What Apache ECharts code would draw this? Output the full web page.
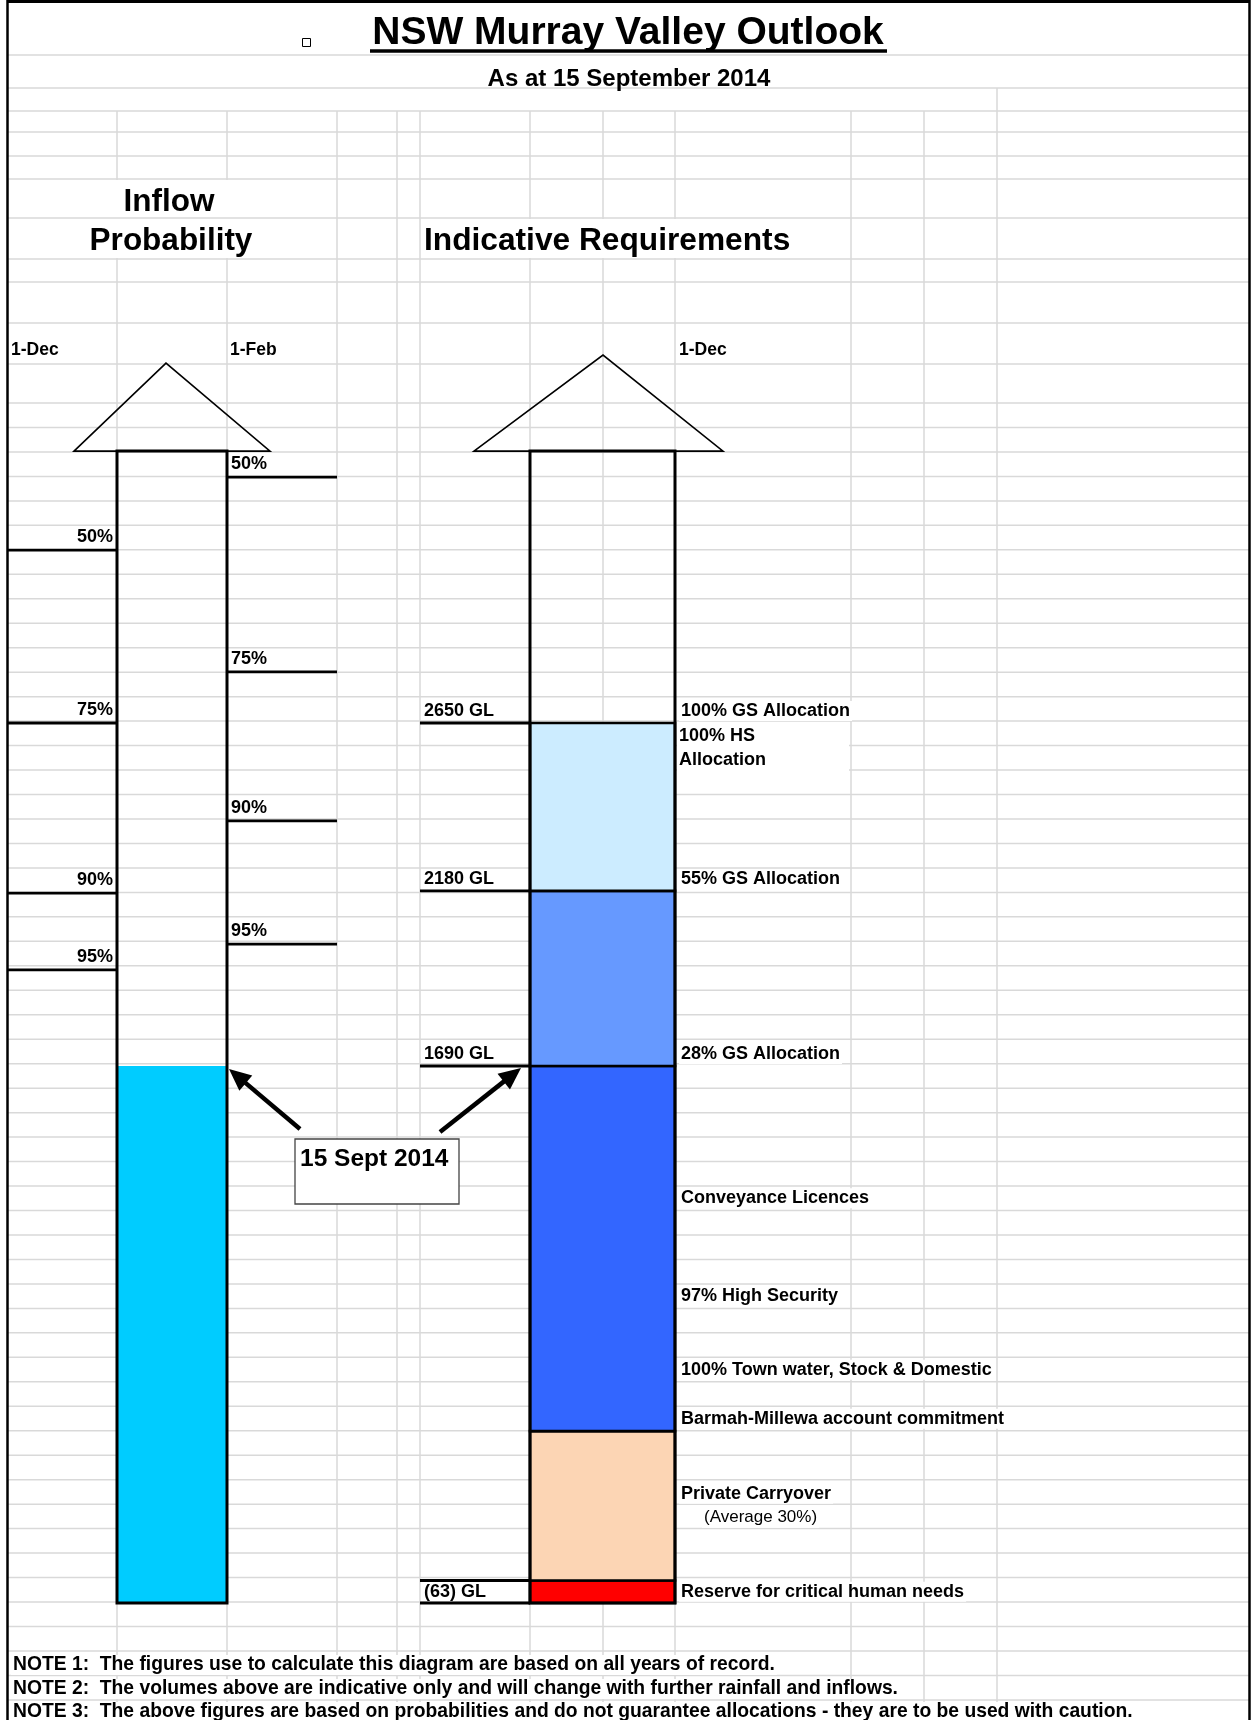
<!DOCTYPE html>
<html><head><meta charset="utf-8">
<script src="https://cdn.jsdelivr.net/npm/echarts@6/dist/echarts.min.js"></script>
<style>html,body{margin:0;padding:0;background:#fff}#c{width:1252px;height:1720px}</style>
</head><body><div id="c"></div>
<script>
// ---------------- data (GL-equivalent levels) ----------------
const titleText = 'NSW Murray Valley Outlook';
const subtitleText = 'As at 15 September 2014';
const leftHeading = ['Inflow', 'Probability'];
const rightHeading = 'Indicative Requirements';
const dateHeads = ['1-Dec', '1-Feb', '1-Dec'];
const probLabels = ['50%', '75%', '90%', '95%'];
const inflowDec = [3134, 2650, 2174, 1959];
const inflowFeb = [3338, 2793, 2376, 2031];
const inflowBase = 187;
const inflowNow = 1690;
const shaftTop = 3411;
const nowLabel = '15 Sept 2014';
const reqLevels = [2650, 2180, 1690];
const reqLevelTags = ['2650 GL', '2180 GL', '1690 GL'];
const reqLevelNames = ['100% GS Allocation', '55% GS Allocation', '28% GS Allocation'];
const segFrom = [187, 250, 668, 1690, 2180];
const segTo = [250, 668, 1690, 2180, 2650];
const segNames = ['Reserve for critical human needs', 'Private Carryover', '', '', '100% HS\nAllocation'];
const segNotes = ['', '(Average 30%)', '', '', ''];
const reserveTag = '(63) GL';
const compNames = ['Conveyance Licences', '97% High Security', '100% Town water, Stock & Domestic', 'Barmah-Millewa account commitment'];
const compLevels = [1320, 1046, 840, 703];
const notes = [
  'NOTE 1:  The figures use to calculate this diagram are based on all years of record.',
  'NOTE 2:  The volumes above are indicative only and will change with further rainfall and inflows.',
  'NOTE 3:  The above figures are based on probabilities and do not guarantee allocations - they are to be used with caution.'
];

// ---------------- layout & style ----------------
const FONT = '"Liberation Sans", Arial, Helvetica, sans-serif';
const W = 1252, H = 1720;
const segColors = ['#FF0000', '#FCD5B4', '#3366FF', '#6699FF', '#CCECFF'];
const L = { borderL: 7.5, borderR: 1249.5, inL: 117, inR: 227, febR: 337, glL: 420, rqL: 530, rqR: 675, lblX: 679 };
const colLines = [117, 227, 337, 397, 420, 530, 603, 675, 851, 924];
const rowLinesTop = [55, 88, 111, 132, 156, 179, 218, 259, 282, 323, 364];
const rowStart = 403, rowPitch = 24.47, rowEnd = 1701;
const GRID = '#D9D9D9';

function T(x, y, text, o) {
  o = o || {};
  const st = { text: text, fill: '#000', fontFamily: FONT, fontWeight: o.bold === false ? 'normal' : 'bold',
    fontSize: o.size || 18, align: o.align || 'left', verticalAlign: o.va || 'middle' };
  if (o.lh) st.lineHeight = o.lh;
  if (o.bg) { st.backgroundColor = o.bg; st.padding = o.pad || [0, 2, 0, 2]; }
  const el = { type: 'text', x: x, y: y, style: st };
  if (o.z != null) el.z = o.z;
  return el;
}
function ln(x1, y1, x2, y2, c, w, z) {
  const el = { type: 'line', shape: { x1: x1, y1: y1, x2: x2, y2: y2 }, style: { stroke: c, lineWidth: w } };
  if (z != null) el.z = z;
  return el;
}

// ---------------- background sheet (graphic) ----------------
const graphics = [];
colLines.forEach(x => graphics.push(ln(x, 111, x, H, GRID, 1.5, 0)));
graphics.push(ln(997, 88, 997, H, GRID, 1.5, 0));
// overflow masks for large headings
graphics.push({ type: 'rect', z: 1, shape: { x: 110, y: 180, width: 125, height: 78 }, style: { fill: '#fff' } });
graphics.push({ type: 'rect', z: 1, shape: { x: 423, y: 219, width: 385, height: 39 }, style: { fill: '#fff' } });
const rows = rowLinesTop.slice();
for (let y = rowStart; y <= rowEnd; y += rowPitch) rows.push(y);
rows.forEach(y => graphics.push(ln(L.borderL, y, L.borderR, y, GRID, 1.5, 2)));
// frame
graphics.push(ln(L.borderL, 0, L.borderL, H, '#000', 2.5, 3));
graphics.push(ln(L.borderR, 0, L.borderR, H, '#000', 2.5, 3));
graphics.push(ln(L.borderL, 1.5, L.borderR, 1.5, '#000', 3, 3));
// titles
graphics.push(T(628, 33, titleText, { size: 39, align: 'center', z: 4 }));
graphics.push(ln(370, 51, 887, 51, '#000', 3.5, 4));
graphics.push({ type: 'rect', z: 4, shape: { x: 302.5, y: 38.5, width: 8, height: 8 }, style: { fill: 'none', stroke: '#000', lineWidth: 1 } });
graphics.push(T(629, 79, subtitleText, { size: 24, align: 'center', z: 4 }));
graphics.push(T(169, 202, leftHeading[0], { size: 31.5, align: 'center', z: 4 }));
graphics.push(T(171, 241, leftHeading[1], { size: 31.5, align: 'center', z: 4 }));
graphics.push(T(424, 241, rightHeading, { size: 31.7, z: 4 }));
graphics.push(T(11, 350, dateHeads[0], { size: 17.5, z: 4 }));
graphics.push(T(230, 350, dateHeads[1], { size: 17.5, z: 4 }));
graphics.push(T(679, 350, dateHeads[2], { size: 17.5, z: 4 }));
notes.forEach((n, i) => graphics.push(T(11, [1665, 1689, 1712][i], n, { size: 19.3, bg: '#fff', lh: 20, z: 4 })));

// ---------------- render functions (use axis scales) ----------------
const Y = (api, v) => api.coord([0, v])[1];

function renderInflowColumn(params, api) {
  const yb = Y(api, api.value(0)), yn = Y(api, api.value(1)), yt = Y(api, api.value(2));
  return { type: 'group', children: [
    { type: 'rect', shape: { x: L.inL, y: yn, width: L.inR - L.inL, height: yb - yn }, style: { fill: '#00CCFF' } },
    { type: 'rect', shape: { x: L.inL, y: yt, width: L.inR - L.inL, height: yb - yt }, style: { fill: 'none', stroke: '#000', lineWidth: 3 } },
    { type: 'polygon', shape: { points: [[74, yt], [166, yt - 88], [270, yt]] }, style: { fill: 'none', stroke: '#000', lineWidth: 1.6 } }
  ] };
}
function renderReqColumn(params, api) {
  const yb = Y(api, api.value(0)), yt = Y(api, api.value(1));
  return { type: 'group', children: [
    { type: 'rect', shape: { x: L.rqL, y: yt, width: L.rqR - L.rqL, height: yb - yt }, style: { fill: 'none', stroke: '#000', lineWidth: 3 } },
    { type: 'polygon', shape: { points: [[474, yt], [603, yt - 96], [723, yt]] }, style: { fill: 'none', stroke: '#000', lineWidth: 1.6 } }
  ] };
}
function renderSegments(params, api) {
  const i = params.dataIndex;
  const y0 = Y(api, api.value(0)), y1 = Y(api, api.value(1));
  const ch = [
    { type: 'rect', shape: { x: L.rqL, y: y1, width: L.rqR - L.rqL, height: y0 - y1 }, style: { fill: segColors[i], stroke: '#000', lineWidth: 2.6 } }
  ];
  const name = segNames[i];
  if (name) {
    if (name.indexOf('\n') >= 0) {
      ch.push({ type: 'rect', shape: { x: L.rqR + 2, y: y1 + 2, width: 172, height: 46 }, style: { fill: '#fff' } });
      ch.push(T(L.lblX, y1 + 1, name, { va: 'top', lh: 24 }));
    } else if (segNotes[i]) {
      const mid = (y0 + y1) / 2;
      ch.push(T(L.lblX, mid - 12, name, { bg: '#fff', lh: 20 }));
      ch.push(T(702, mid + 12, segNotes[i], { bold: false, size: 17, bg: '#fff', lh: 20 }));
    } else {
      ch.push(T(L.lblX, (y0 + y1) / 2, name, { bg: '#fff', lh: 20 }));
    }
  }
  return { type: 'group', children: ch };
}
function renderDec(params, api) {
  const y = Y(api, api.value(0));
  return { type: 'group', children: [
    ln(L.borderL, y, L.inL, y, '#000', 2.8),
    T(113, y - 13, probLabels[params.dataIndex], { align: 'right' })
  ] };
}
function renderFeb(params, api) {
  const y = Y(api, api.value(0));
  return { type: 'group', children: [
    ln(L.inR, y, L.febR, y, '#000', 2.8),
    T(231, y - 13, probLabels[params.dataIndex])
  ] };
}
function renderLevels(params, api) {
  const i = params.dataIndex, y = Y(api, api.value(0));
  return { type: 'group', children: [
    ln(L.glL, y, L.rqL, y, '#000', 2.8),
    T(424, y - 12, reqLevelTags[i]),
    T(L.lblX, y - 12, reqLevelNames[i], { bg: '#fff', lh: 20 })
  ] };
}
function renderReserveTag(params, api) {
  const y0 = Y(api, api.value(0)), y1 = Y(api, api.value(1));
  return { type: 'group', children: [
    ln(L.glL, y1, L.rqL, y1, '#000', 2.8),
    ln(L.glL, y0, L.rqL, y0, '#000', 2.8),
    T(424, (y0 + y1) / 2, reserveTag)
  ] };
}
function renderComps(params, api) {
  const y = Y(api, api.value(0));
  return T(L.lblX, y, compNames[params.dataIndex], { bg: '#fff', lh: 20 });
}
function arrow(x0, y0, x1, y1) {
  const dx = x1 - x0, dy = y1 - y0, len = Math.sqrt(dx * dx + dy * dy);
  const ux = dx / len, uy = dy / len, hl = 22, hw = 10;
  const bx = x1 - ux * hl, by = y1 - uy * hl;
  return [
    ln(x0, y0, bx + ux * 2, by + uy * 2, '#000', 4.5),
    { type: 'polygon', shape: { points: [[x1, y1], [bx - uy * hw, by + ux * hw], [bx + uy * hw, by - ux * hw]] }, style: { fill: '#000' } }
  ];
}
function renderPointer(params, api) {
  const y = Y(api, api.value(0));
  return { type: 'group', children: [
    { type: 'rect', shape: { x: 295, y: 1139, width: 164, height: 65 }, style: { fill: '#fff', stroke: '#444', lineWidth: 1.3 } },
    T(300, 1159, nowLabel, { size: 24.5 })
  ].concat(arrow(300, 1129, L.inR + 2, y + 3), arrow(440, 1132, L.rqL - 9, y + 2)) };
}

const cs = (name, data, fn, z) => ({ type: 'custom', name: name, data: data, renderItem: fn, silent: true, z: z || 10, clip: false });

const option = {
  animation: false,
  backgroundColor: '#fff',
  grid: { left: 0, right: 0, top: 62, bottom: 50.2 },
  xAxis: { type: 'value', min: 0, max: W, show: false },
  yAxis: { type: 'value', min: 0, max: 4500, show: false },
  graphic: { elements: graphics },
  series: [
    cs('Inflow', [[inflowBase, inflowNow, shaftTop]], renderInflowColumn, 10),
    cs('Requirement segments', segFrom.map((f, i) => [f, segTo[i]]), renderSegments, 11),
    cs('Requirement column', [[segFrom[0], shaftTop]], renderReqColumn, 12),
    cs('1-Dec probability', inflowDec.map(v => [v]), renderDec, 12),
    cs('1-Feb probability', inflowFeb.map(v => [v]), renderFeb, 12),
    cs('Requirement levels', reqLevels.map(v => [v]), renderLevels, 13),
    cs('Reserve', [[segFrom[0], segTo[0]]], renderReserveTag, 13),
    cs('Components', compLevels.map(v => [v]), renderComps, 13),
    cs('Now', [[inflowNow]], renderPointer, 14)
  ]
};
const chart = echarts.init(document.getElementById('c'), null, { renderer: 'canvas' });
chart.setOption(option);
</script></body></html>
